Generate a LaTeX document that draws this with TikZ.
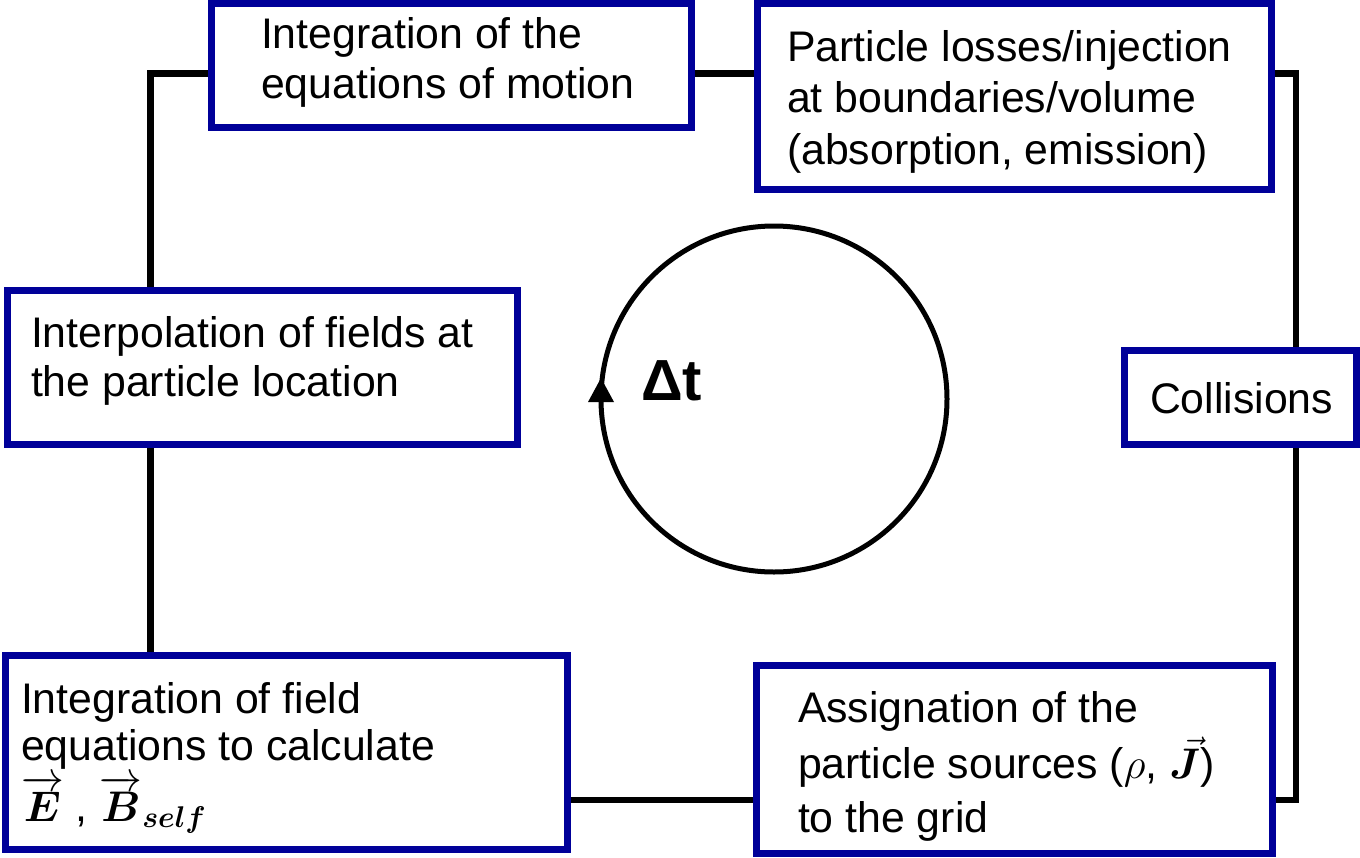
\RequirePackage{fix-cm}
\documentclass[tikz,border=0pt]{standalone}
\usepackage{amsmath}
\usepackage{bm}
\usepackage{fontspec}
\setmainfont{Liberation Sans}
\usetikzlibrary{arrows.meta,calc,backgrounds}
\definecolor{boxblue}{RGB}{0,0,153}
\tikzset{
  box/.style={draw=boxblue, line width=7pt, fill=white, rectangle, inner sep=0pt, outer sep=0pt},
  txt/.style={anchor=base west, inner sep=0pt, outer sep=0pt},
  conn/.style={draw=black, line width=6.5pt, line join=miter, line cap=butt},
}
\newcommand{\lines}[2]{{\fontsize{42.8}{#1}\selectfont\begin{tabular}[t]{@{}l@{}}#2\end{tabular}}}
\begin{document}
\begin{tikzpicture}[x=1pt,y=-1pt]
\useasboundingbox (0,0) rectangle (1360,857);
% boxes
\node[box, minimum width=480pt, minimum height=124pt] (top) at (451,65) {};
\node[box, minimum width=514pt, minimum height=186pt] (tr) at (1014,96) {};
\node[box, minimum width=510pt, minimum height=154pt] (left) at (262,367) {};
\node[box, minimum width=232pt, minimum height=94pt] (coll) at (1240,397) {};
\node[box, minimum width=562pt, minimum height=194pt] (bl) at (286,752) {};
\node[box, minimum width=516pt, minimum height=188pt] (br) at (1014,759) {};
% texts
\node[txt] (ttop) at (261,48) {\lines{50}{Integration of the\\equations of motion}};
\node[txt] (ttr) at (787,61) {\lines{51.5}{Particle losses/injection\\at boundaries/volume\\(absorption, emission)}};
\node[txt] (tleft) at (31,347) {\lines{49}{Interpolation of fields at\\the particle location}};
\node[txt] (tcoll) at (1150,413) {\fontsize{42.8}{50}\selectfont Collisions};
\node[txt] (tbl) at (21,713) {\lines{47}{Integration of field\\equations to calculate\\[2pt]$\overrightarrow{\bm{E}}$ , $\overrightarrow{\bm{B}}_{\bm{self}}$}};
\node[txt] (tbr) at (798,722) {\lines{51}{Assignation of the\\particle sources ($\rho$, $\vec{\bm{J}}$)\\[3pt]to the grid}};
% cycle
\node[circle, draw=black, line width=5pt, inner sep=0pt, outer sep=0pt, minimum size=346pt] (cyc) at (774,399) {};
\fill[black] ($(cyc.west)+(-13,3)$) -- ($(cyc.west)+(0,-21)$) -- ($(cyc.west)+(13,3)$) -- cycle;
\node[txt, font=\fontsize{58}{60}\selectfont\bfseries] (dt) at (641,400) {Δt};
% connectors
\coordinate (c1) at (150.5,73.5);
\coordinate (c3) at (1296,800);
\coordinate (c4) at (1296,73.5);
\begin{pgfonlayer}{background}
\draw[conn] (c1 -| top.west) -- (c1) -- (c1 |- left.north);
\draw[conn] (c1 |- left.south) -- (c1 |- bl.north);
\draw[conn] (c3 -| bl.east) -- (c3 -| br.west);
\draw[conn] (c3 -| br.east) -- (c3) -- (c3 |- coll.south);
\draw[conn] (c4 |- coll.north) -- (c4) -- (c4 -| tr.east);
\draw[conn] (c1 -| top.east) -- (c1 -| tr.west);
\end{pgfonlayer}
\end{tikzpicture}
\end{document}
